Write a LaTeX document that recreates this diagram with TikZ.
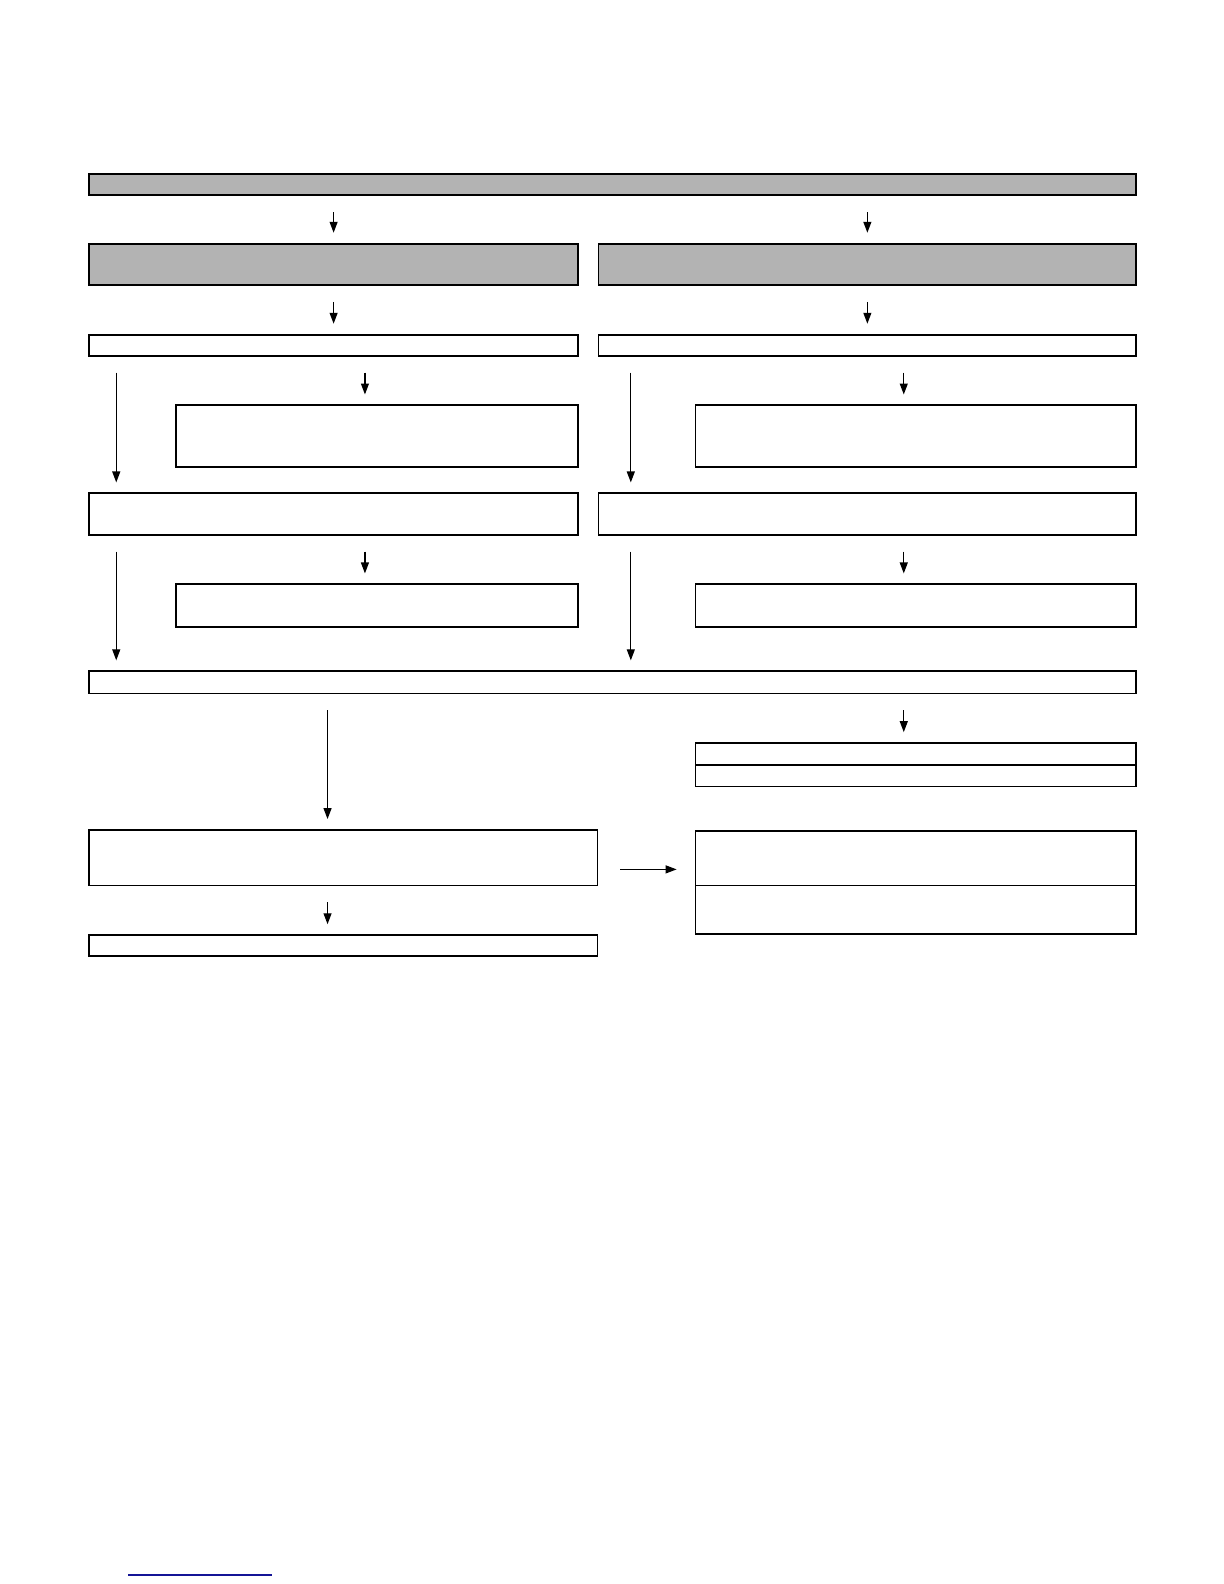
\documentclass[tikz,border=0pt]{standalone}
\usetikzlibrary{fit,arrows.meta}

\tikzset{
  boxw/.style={draw, line width=0.9pt, inner sep=0pt, fill=white},
  boxg/.style={boxw, fill={rgb,255:red,179;green,179;blue,179}},
  arr/.style={-{Triangle[length=5.5pt,width=4pt]}, line width=0.6pt, shorten <=8bp, shorten >=5bp},
}

\begin{document}
\begin{tikzpicture}[x=0.5055bp,y=0.5055bp,yscale=-1,xscale=1]
\useasboundingbox (0,0) rectangle (1210.7,1566.9);

%Columns of the arrows
\coordinate (lx) at (115,0);
\coordinate (rx) at (624,0);
\coordinate (mlx) at (361,0);
\coordinate (mrx) at (894,0);
\coordinate (cx) at (324,0);
\coordinate (hy) at (0,860);

%Shape: Rectangle, top bar
\node[boxg, fit={(88,172) (1124,193)}] (top) {};
%Shape: Rectangle, grey boxes
\node[boxg, fit={(88,241) (572,282)}] (gl) {};
\node[boxg, fit={(592,241) (1124,282)}] (gr) {};
%Shape: Rectangle, left column
\node[boxw, fit={(88,331) (572,352)}] (sl) {};
\node[boxw, fit={(174,401) (572,462)}] (ml) {};
\node[boxw, fit={(88,488) (572,529)}] (nl) {};
\node[boxw, fit={(174,578) (572,620)}] (pl) {};
%Shape: Rectangle, right column
\node[boxw, fit={(592,331) (1124,352)}] (sr) {};
\node[boxw, fit={(688,401) (1124,462)}] (mr) {};
\node[boxw, fit={(592,488) (1124,529)}] (nr) {};
\node[boxw, fit={(688,578) (1124,620)}] (pr) {};
%Shape: Rectangle, wide bar
\node[boxw, fit={(88,664) (1124,686)}] (wide) {};
%Shape: Rectangle, lower part
\node[boxw, fit={(688,735) (1124,757)}] (qa) {};
\node[boxw, fit={(688,757) (1124,778)}] (qb) {};
\node[boxw, fit={(88,821) (591,876)}] (cl) {};
\node[boxw, fit={(688,822) (1124,876)}] (cra) {};
\node[boxw, fit={(688,876) (1124,924)}] (crb) {};
\node[boxw, fit={(88,925) (591,946)}] (bl) {};

%Arrows
\draw[arr] (gl.north |- top.south) -- (gl.north);
\draw[arr] (gr.north |- top.south) -- (gr.north);
\draw[arr] (gl.south) -- (sl.north);
\draw[arr] (gr.south) -- (sr.north);
\draw[arr] (mlx |- sl.south) -- (mlx |- ml.north);
\draw[arr] (mrx |- sr.south) -- (mrx |- mr.north);
\draw[arr] (lx |- sl.south) -- (lx |- nl.north);
\draw[arr] (rx |- sr.south) -- (rx |- nr.north);
\draw[arr] (mlx |- nl.south) -- (mlx |- pl.north);
\draw[arr] (mrx |- nr.south) -- (mrx |- pr.north);
\draw[arr] (lx |- nl.south) -- (lx |- wide.north);
\draw[arr] (rx |- nr.south) -- (rx |- wide.north);
\draw[arr] (cx |- wide.south) -- (cx |- cl.north);
\draw[arr] (mrx |- wide.south) -- (mrx |- qa.north);
\draw[arr] (cx |- cl.south) -- (cx |- bl.north);
\draw[arr, shorten <=11bp, shorten >=9bp] (cl.east |- hy) -- (cra.west |- hy);

%Straight Lines, link underline
\draw [color={rgb, 255:red, 20; green, 20; blue, 150 }, line width=0.8pt] (127,1558) -- (269,1558);

\end{tikzpicture}
\end{document}
